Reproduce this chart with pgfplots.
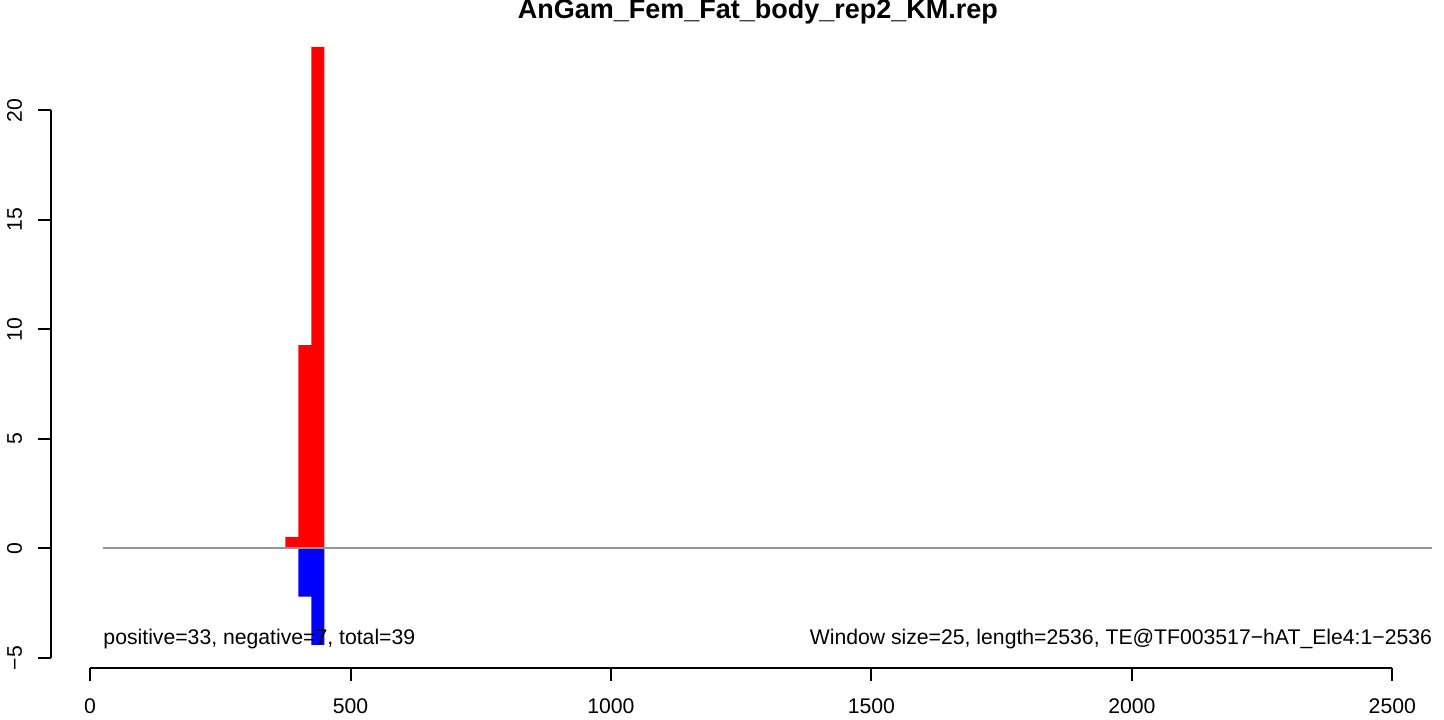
\documentclass[border=0pt]{standalone}
\usepackage{pgfplots}
\pgfplotsset{compat=1.18}
\usepackage{fontspec}
\setmainfont{Liberation Sans}
\definecolor{zgray}{RGB}{150,150,150}
\definecolor{rred}{RGB}{255,0,0}
\definecolor{rblue}{RGB}{0,0,255}
\begin{document}
\begin{tikzpicture}
\path[use as bounding box] (0pt,0pt) rectangle (722pt,359.5pt);
\begin{axis}[
  at={(25.5pt,25.5pt)}, anchor=south west,
  scale only axis, width=696.5pt, height=322.5pt,
  xmin=-75, xmax=2599.3, ymin=-5.46, ymax=23.99,
  axis line style={draw=none},
  xtick={0,500,1000,1500,2000,2500},
  xticklabels={0,500,1000,1500,2000,2500},
  ytick={-5,0,5,10,15,20},
  yticklabels={−5,0,5,10,15,20},
  xtick pos=lower, ytick pos=left, tick align=outside,
  major tick length=6.35pt,
  tick style={black, line width=1pt},
  xticklabel shift=5.6pt,
  yticklabel shift=4.6pt,
  yticklabel style={rotate=90, anchor=south},
  ticklabel style={font=\fontsize{10.6}{12}\selectfont},
  clip=false,
]
\addplot[ybar interval, fill=rred, draw=none] coordinates {(375,0.53) (400,9.28) (425,22.9) (450,22.9)};
\addplot[ybar interval, fill=rblue, draw=none] coordinates {(400,-2.2) (425,-4.4) (450,-4.4)};
\addplot[zgray, line width=1pt, no marks] coordinates {(25,0) (2577,0)};
\draw[line width=1pt] (axis cs:0,-5.46) -- (axis cs:2500,-5.46);
\draw[line width=1pt] (axis cs:-75,-5) -- (axis cs:-75,20);
\node[anchor=base west, inner sep=0pt, font=\fontsize{10.6}{12}\selectfont] at (axis cs:25,-4.37) {positive=33, negative=7, total=39};
\node[anchor=base east, inner sep=0pt, font=\fontsize{10.6}{12}\selectfont] at (axis cs:2577,-4.37) {Window size=25, length=2536, TE@TF003517−hAT\_Ele4:1−2536};
\node[anchor=center, font=\fontsize{13.5}{15}\selectfont\bfseries] at (axis cs:1282,24.5) {AnGam\_Fem\_Fat\_body\_rep2\_KM.rep};
\end{axis}
\end{tikzpicture}
\end{document}
